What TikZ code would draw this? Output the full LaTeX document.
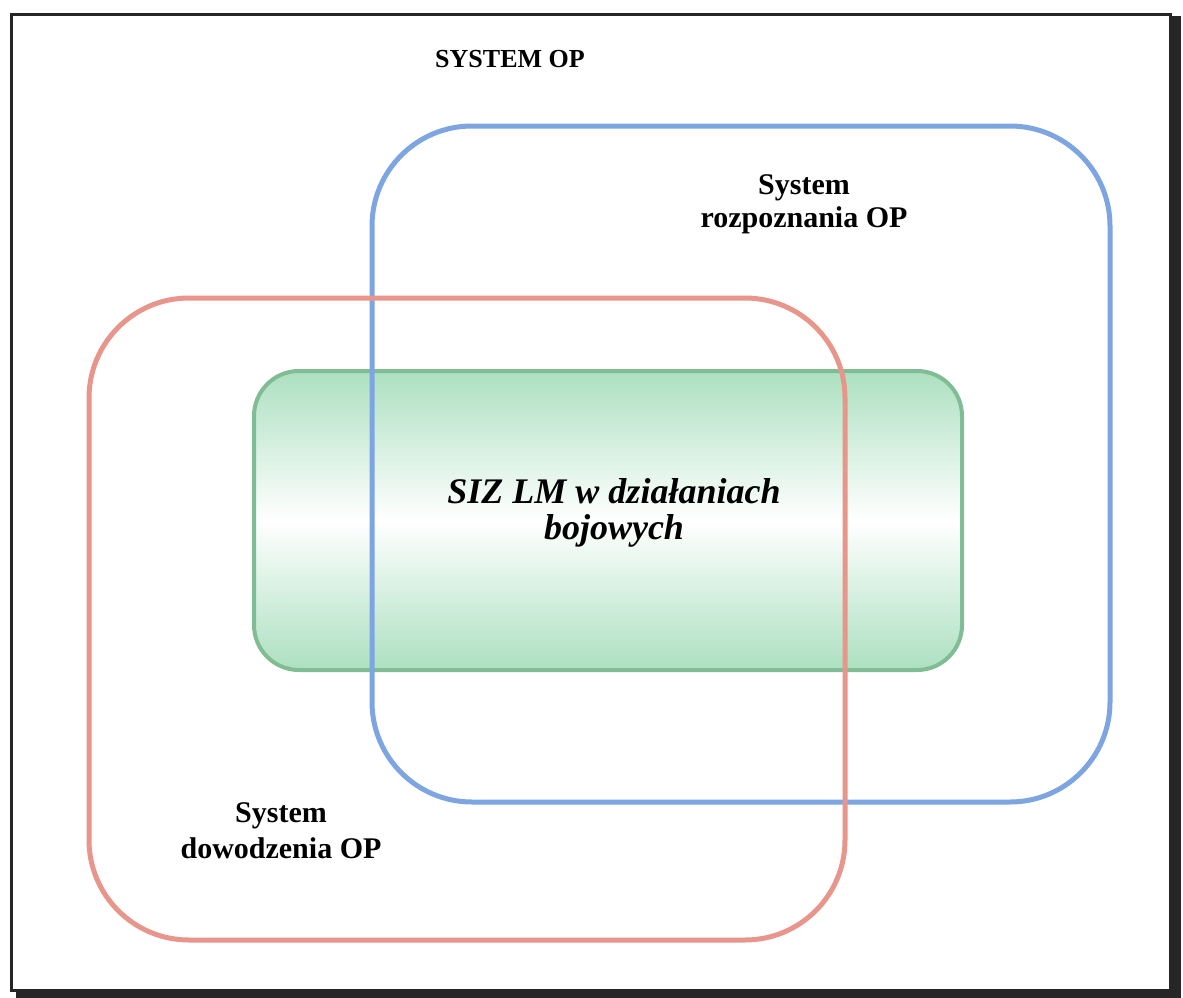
\documentclass[tikz,border=0pt]{standalone}
\usepackage{fontspec}
\setmainfont{Liberation Serif}
\definecolor{bluec}{RGB}{125,165,225}
\definecolor{redc}{RGB}{232,150,140}
\definecolor{greenb}{RGB}{128,188,148}
\definecolor{greenf}{RGB}{172,224,192}
\tikzset{
  setbox/.style={draw, line width=5pt, rounded corners=100pt},
  lbl/.style={font=\bfseries, align=center, anchor=base, inner sep=0pt}
}
\begin{document}
\begin{tikzpicture}[x=1pt,y=-1pt]
\useasboundingbox (0,0) rectangle (1183,998);
\fill[white] (0,0) rectangle (1183,998);
% frame with shadow
\fill[black!85] (16,16) rectangle (1181,998);
\filldraw[fill=white, draw=black!85, line width=3pt] (11,15) rectangle (1170,990);
% central green box
\shade[top color=greenf, bottom color=greenf, middle color=white, rounded corners=45pt]
  (254,371) rectangle (962,670);
\draw[greenb, line width=4pt, rounded corners=45pt] (254,371) rectangle (962,670);
% blue and red sets
\draw[setbox, bluec] (372,126) rectangle (1110,802);
\draw[setbox, redc] (89,298) rectangle (845,940);
% labels
\node[lbl, font=\bfseries\fontsize{26}{30}\selectfont] (sys) at (510,67) {SYSTEM OP};
\node[lbl, font=\bfseries\fontsize{30}{33}\selectfont] (rozp) at (804,227) {System\\rozpoznania OP};
\node[lbl, font=\bfseries\fontsize{30}{36}\selectfont] (dow) at (281,858) {System\\dowodzenia OP};
\node[lbl, font=\bfseries\itshape\fontsize{36}{36}\selectfont] (siz) at (614,539) {SIZ LM w działaniach\\bojowych};
\end{tikzpicture}
\end{document}
